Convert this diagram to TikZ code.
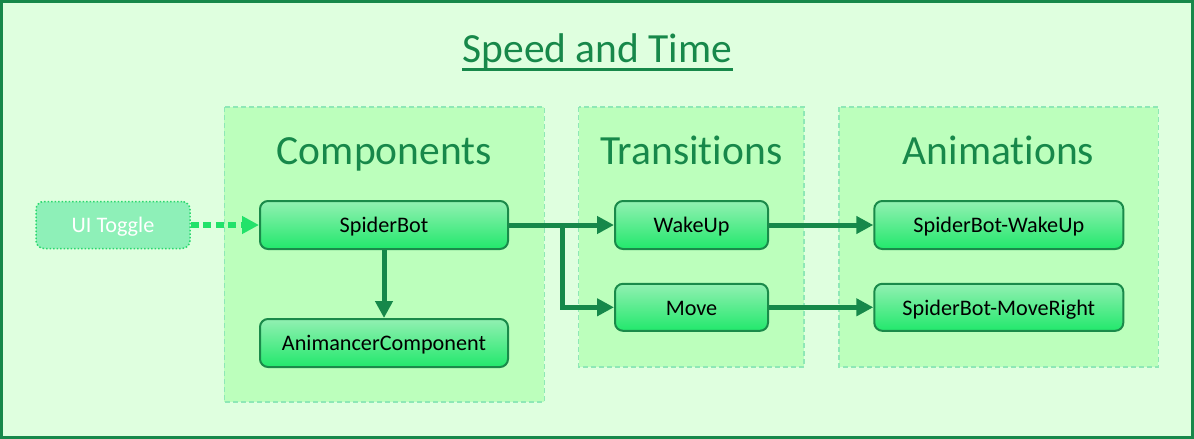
\documentclass[tikz,border=0pt]{standalone}
\usepackage{fontspec}
\setmainfont{Carlito}[Ligatures=NoCommon]
\usetikzlibrary{arrows.meta}
\definecolor{bgfill}{HTML}{DFFFDF}
\definecolor{frameline}{HTML}{17884A}
\definecolor{grpfill}{HTML}{BCFFBC}
\definecolor{grpline}{HTML}{8EE8B6}
\definecolor{boxtop}{HTML}{92F0B2}
\definecolor{boxbot}{HTML}{22E86C}
\definecolor{boxline}{HTML}{1A8A4A}
\definecolor{flowcol}{HTML}{16884A}
\definecolor{togglefill}{HTML}{8EF0B8}
\definecolor{toggleline}{HTML}{2AD86E}
\definecolor{togglearrow}{HTML}{22E26A}
\tikzset{
  frame/.style={draw=frameline, line width=3pt, fill=bgfill},
  group/.style={draw=grpline, dash pattern=on 5pt off 3pt, line width=1.3pt, fill=grpfill},
  grptitle/.style={text=frameline, font=\fontsize{41.5}{48}\selectfont, anchor=base, inner sep=0pt},
  box/.style={draw=boxline, line width=2pt, rounded corners=8pt, top color=boxtop,
    bottom color=boxbot, minimum height=48pt, font=\fontsize{22.2}{26}\selectfont, text=black,
    text height=15.4pt, text depth=0pt},
  toggle/.style={draw=toggleline, dotted, line width=1.5pt, rounded corners=8pt, fill=togglefill,
    minimum width=154pt, minimum height=47pt, font=\fontsize{22.2}{26}\selectfont, text=white,
    text height=15.4pt, text depth=0pt},
  flow/.style={-{Triangle[length=17pt,width=17pt]}, line width=5pt, draw=flowcol},
  toggleflow/.style={-{Triangle[length=17pt,width=17pt]}, line width=6pt, draw=togglearrow,
    dash pattern=on 8pt off 4.5pt}
}

\begin{document}
\begin{tikzpicture}[x=1pt, y=-1pt]
  \useasboundingbox (0,0) rectangle (1194,439);
  \draw[frame] (1.5,1.5) rectangle (1192.5,437.5);

  % title
  \node[grptitle] (title) at (597.5,62.7) {Speed and Time};
  \draw[frameline, line width=2.7pt] ([yshift=-6.6pt]title.base west) -- ([yshift=-6.6pt]title.base east);

  % groups
  \draw[group] (224.3,107) rectangle (544.3,402);
  \draw[group] (578.7,107) rectangle (804,367);
  \draw[group] (839,107) rectangle (1158.3,367);
  \node[grptitle] (comptitle) at (384.3,164) {Components};
  \node[grptitle] (transtitle) at (691.3,164) {Transitions};
  \node[grptitle] (animtitle) at (998.6,164) {Animations};

  % nodes
  \node[toggle] (toggle) at (113,225) {UI Toggle};
  \node[box, minimum width=248pt] (spider) at (384,225) {SpiderBot};
  \node[box, minimum width=248pt] (animancer) at (384,343) {AnimancerComponent};
  \node[box, minimum width=153pt] (wake) at (691.5,225) {WakeUp};
  \node[box, minimum width=153pt, minimum height=47pt] (move) at (691.5,307.3) {Move};
  \node[box, minimum width=249pt] (animwake) at (998.8,225) {SpiderBot-WakeUp};
  \node[box, minimum width=249pt, minimum height=47pt] (animmove) at (998.8,307.3) {SpiderBot-MoveRight};

  % connectors
  \draw[toggleflow] (toggle.east) -- (spider.west);
  \draw[flow] (spider.south) -- (animancer.north);
  \draw[flow] (spider.east) -- (wake.west);
  \draw[flow] (spider.east) -- ++(53,0) |- (move.west);
  \draw[flow] (wake.east) -- (animwake.west);
  \draw[flow] (move.east) -- (animmove.west);
\end{tikzpicture}
\end{document}
